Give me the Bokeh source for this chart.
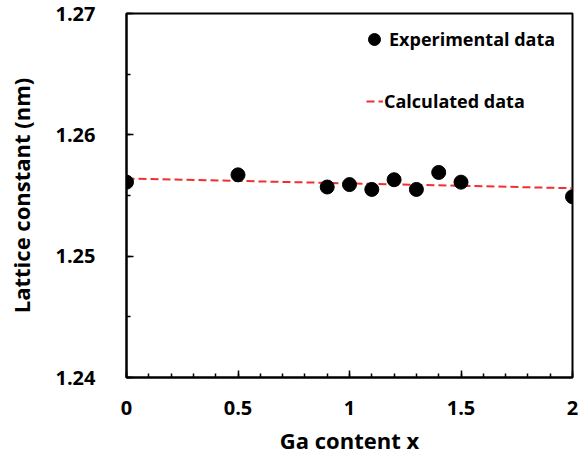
from bokeh.plotting import figure
from bokeh.models import (FixedTicker, CustomJSTickFormatter, Legend, LegendItem, Range1d)
from bokeh.embed import file_html
from bokeh.resources import INLINE

# Data
ga_content = [0.0, 0.5, 0.9, 1.0, 1.1, 1.2, 1.3, 1.4, 1.5, 2.0]
lattice_exp = [1.2561, 1.2567, 1.2557, 1.2559, 1.2555, 1.2563, 1.2555, 1.2569, 1.2561, 1.2549]
calc_x = [0.0, 2.0]
calc_y = [1.2564, 1.2556]

x_ticks = [0, 0.5, 1, 1.5, 2]
x_minor = [i / 10 for i in range(0, 21)]
y_ticks = [1.24, 1.25, 1.26, 1.27]
y_minor = [1.24, 1.245, 1.25, 1.255, 1.26, 1.265, 1.27]

FONT = "Open Sans"

p = figure(width=578, height=457, output_backend="svg", toolbar_location=None,
           x_range=Range1d(0, 2), y_range=Range1d(1.24, 1.27),
           min_border_left=126, min_border_right=6, min_border_top=13, min_border_bottom=80)
p.grid.visible = False
p.outline_line_color = "black"
p.outline_line_width = 2
p.background_fill_color = "white"
p.border_fill_color = "white"

line = p.line(calc_x, calc_y, line_color="#f03030", line_width=2, line_dash="8 4")
pts = p.scatter(ga_content, lattice_exp, size=14, color="black")

for ax in (p.xaxis[0], p.yaxis[0]):
    ax.axis_line_width = 2
    ax.axis_line_color = "black"
    ax.major_tick_in = 7
    ax.major_tick_out = 0
    ax.minor_tick_in = 4
    ax.minor_tick_out = 0
    ax.major_tick_line_width = 1.5
    ax.minor_tick_line_width = 1.5
    ax.major_label_text_font = FONT
    ax.major_label_text_font_style = "bold"
    ax.major_label_text_font_size = "20px"
    ax.major_label_text_color = "black"
    ax.axis_label_text_font = FONT
    ax.axis_label_text_font_style = "bold"
    ax.axis_label_text_font_size = "22px"
    ax.axis_label_text_color = "black"
    ax.formatter = CustomJSTickFormatter(code="return tick.toString();")

p.xaxis[0].ticker = FixedTicker(ticks=x_ticks, minor_ticks=x_minor)
p.yaxis[0].ticker = FixedTicker(ticks=y_ticks, minor_ticks=y_minor)
p.xaxis[0].axis_label = "Ga content x"
p.yaxis[0].axis_label = "Lattice constant (nm)"
p.xaxis[0].major_label_standoff = 23
p.xaxis[0].axis_label_standoff = 7
p.yaxis[0].major_label_standoff = 31
p.yaxis[0].axis_label_standoff = 16

def make_legend(item, loc, gw, gh, standoff):
    lg = Legend(items=[item], location=loc, glyph_width=gw, glyph_height=gh,
                label_standoff=standoff, padding=0, margin=0, spacing=0,
                border_line_color=None, background_fill_alpha=0,
                label_text_font=FONT, label_text_font_style="bold",
                label_text_font_size="18px", label_text_color="black")
    return lg

lg1 = make_legend(LegendItem(label="Experimental data", renderers=[pts]), (233, 322), 30, 32, -9)
lg2 = make_legend(LegendItem(label="Calculated data", renderers=[line]), (240, 264), 17, 20, 1)
p.add_layout(lg1)
p.add_layout(lg2)

open("out.html", "w").write(file_html(p, INLINE))
